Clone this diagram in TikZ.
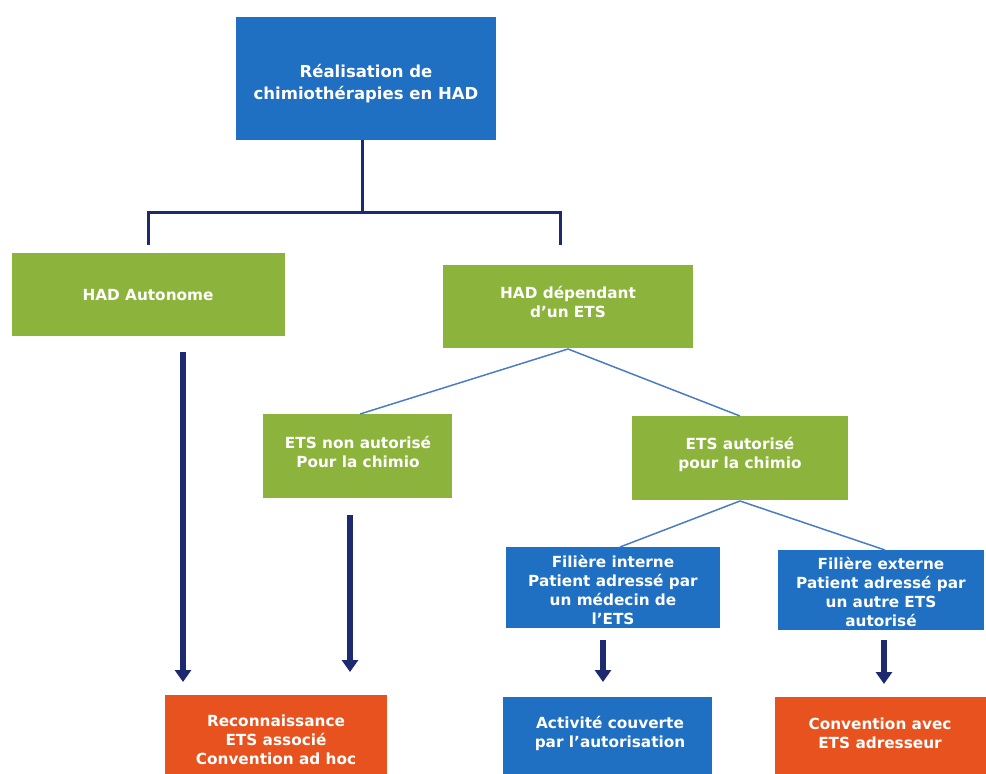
\documentclass[tikz,border=0pt]{standalone}
\usepackage{fontspec}
\setmainfont{DejaVu Sans}
\usetikzlibrary{arrows.meta}
\definecolor{boxblue}{HTML}{1F6FC2}
\definecolor{boxgreen}{HTML}{8CB43C}
\definecolor{boxorange}{HTML}{E8521E}
\definecolor{navy}{HTML}{1E2A70}
\definecolor{thinblue}{HTML}{4A7CC4}
\begin{document}
\begin{tikzpicture}[x=1pt,y=-1pt,
  box/.style={inner sep=0pt, align=center, text=white, font=\bfseries\fontsize{15.3}{19}\selectfont},
  trunk/.style={draw=navy, line width=3pt},
  thin/.style={draw=thinblue, line width=1.5pt},
  bigarrow/.style={draw=navy, fill=navy, line width=6pt, -{Triangle[width=16pt,length=12pt]}}]
\useasboundingbox (0,0) rectangle (986,774);
% boxes
\fill[boxblue] (236,17) rectangle (496,140);
\node[box, font=\bfseries\fontsize{16.5}{22}\selectfont] (top) at (366,84) {Réalisation de\\chimiothérapies en HAD};
\coordinate (topb) at (362,140);
\fill[boxgreen] (12,253) rectangle (285,336);
\node[box] (auto) at (148,295) {HAD Autonome};
\fill[boxgreen] (443,265) rectangle (693,348);
\node[box] (dep) at (568,302) {HAD dépendant\\d'un ETS};
\fill[boxgreen] (263,414) rectangle (452,498);
\node[box] (non) at (358,452) {ETS non autorisé\\Pour la chimio};
\fill[boxgreen] (632,416) rectangle (848,500);
\node[box] (aut) at (740,454) {ETS autorisé\\pour la chimio};
\fill[boxblue] (506,547) rectangle (720,628);
\node[box] (int) at (613,590) {Filière interne\\Patient adressé par\\un médecin de\\l'ETS};
\fill[boxblue] (778,550) rectangle (984,630);
\node[box] (ext) at (881,592) {Filière externe\\Patient adressé par\\un autre ETS\\autorisé};
\fill[boxorange] (165,695) rectangle (387,780);
\node[box] (rec) at (276,740) {Reconnaissance\\ETS associé\\Convention ad hoc};
\fill[boxblue] (503,697) rectangle (712,780);
\node[box] (act) at (610,733) {Activité couverte\\par l'autorisation};
\fill[boxorange] (775,697) rectangle (990,780);
\node[box] (conv) at (880,733) {Convention avec\\ETS adresseur};
% coordinates
\coordinate (hl) at (148,212);
\coordinate (hr) at (560,212);
\coordinate (hc) at (362,212);
\coordinate (al) at (148,245);
\coordinate (ar) at (560,245);
\coordinate (depb) at (568,349);
\coordinate (nont) at (360,414);
\coordinate (autt) at (740,416);
\coordinate (autb) at (740,501);
\coordinate (intt) at (620,547);
\coordinate (extt) at (885,550);
% trunk
\draw[trunk] (topb) -- (hc);
\draw[trunk] (al) -- (hl) -- (hr) -- (ar);
% thin lines
\draw[thin] (depb) -- (nont);
\draw[thin] (depb) -- (autt);
\draw[thin] (autb) -- (intt);
\draw[thin] (autb) -- (extt);
% arrows
\coordinate (a1s) at (183,352); \coordinate (a1e) at (183,682);
\coordinate (a2s) at (350,515); \coordinate (a2e) at (350,672);
\coordinate (a3s) at (603,640); \coordinate (a3e) at (603,682);
\coordinate (a4s) at (884,640); \coordinate (a4e) at (884,684);
\draw[bigarrow] (a1s) -- (a1e);
\draw[bigarrow] (a2s) -- (a2e);
\draw[bigarrow] (a3s) -- (a3e);
\draw[bigarrow] (a4s) -- (a4e);
\end{tikzpicture}
\end{document}
